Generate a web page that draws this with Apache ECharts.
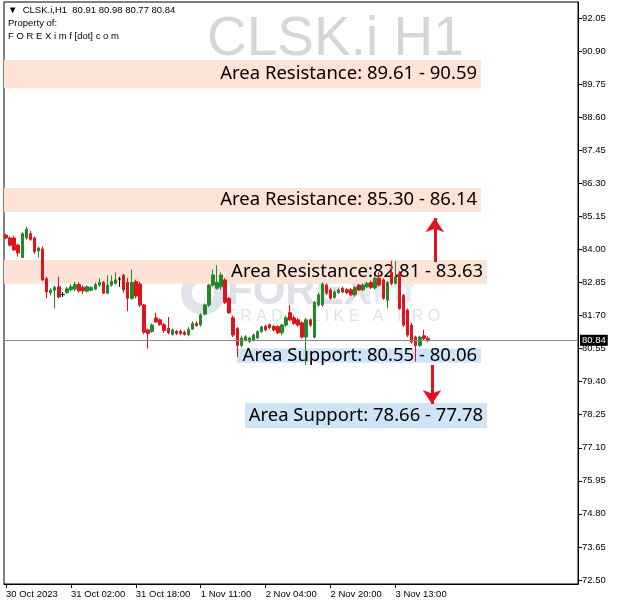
<!DOCTYPE html>
<html>
<head>
<meta charset="utf-8">
<script src="https://cdn.jsdelivr.net/npm/echarts@6/dist/echarts.min.js"></script>
<style>
html,body{margin:0;padding:0;background:#fff;}
#chart{width:620px;height:606px;}
</style>
</head>
<body>
<div id="chart"></div>
<script>
// Hourly OHLC of CLSK.i
const opens  = [84.50,84.40,84.40,84.15,83.72,84.40,84.55,84.40,83.95,84.02,82.98,82.50,82.58,82.70,82.43,82.50,82.60,82.62,82.78,82.68,82.55,
                82.58,82.62,82.76,82.85,82.48,82.76,82.82,82.97,83.10,82.85,82.30,82.88,82.80,82.07,81.20,81.15,81.62,81.55,81.38,81.25,81.05,
                81.15,81.15,81.12,81.03,81.23,81.42,81.37,81.75,82.07,82.76,82.65,82.70,82.94,82.30,81.62,81.25,80.66,80.85,80.80,80.85,80.92,
                81.14,81.32,81.38,81.32,81.32,81.10,81.37,81.80,81.62,81.55,81.45,80.95,81.55,80.95,82.07,82.07,82.76,82.59,82.33,82.50,82.65,
                82.60,82.60,82.42,82.76,82.59,82.70,82.85,82.66,83.00,82.94,82.24,83.20,82.82,83.17,82.40,81.89,81.37,80.95,80.66,81.00,80.91];
const highs  = [84.55,84.45,84.48,84.20,84.60,84.80,84.65,84.45,84.10,84.10,83.05,82.65,82.75,83.05,82.52,82.70,82.80,82.88,82.85,82.75,82.75,
                82.72,82.85,83.00,82.90,83.10,83.10,83.20,83.05,83.15,83.00,83.30,82.95,82.88,82.10,81.25,81.42,81.80,81.60,81.45,81.65,81.25,
                81.20,81.22,81.18,81.30,81.50,81.50,81.78,82.12,82.80,83.30,83.45,83.20,83.00,82.35,81.70,81.30,81.00,81.02,80.96,81.08,81.20,
                81.35,81.38,81.42,81.38,81.36,81.42,81.70,82.07,81.70,81.62,81.50,81.62,81.60,82.20,82.50,82.85,82.82,82.65,82.58,82.65,82.70,
                82.65,82.65,82.72,82.80,82.82,82.88,82.92,83.05,83.20,83.00,82.90,83.60,83.60,83.25,82.45,81.95,81.45,81.00,81.00,81.20,80.98];
const lows   = [84.35,84.10,83.95,83.75,83.70,84.35,84.30,83.85,83.72,82.90,82.30,82.40,81.95,82.30,82.35,82.45,82.55,82.55,82.50,82.45,82.50,
                82.55,82.58,82.70,82.45,82.45,82.70,82.78,82.70,82.50,81.85,82.25,82.30,82.00,81.05,80.55,81.10,81.45,81.35,81.10,81.05,81.00,
                81.02,81.02,81.00,80.98,81.20,81.30,81.32,81.70,82.00,82.70,82.60,82.60,82.10,81.75,80.95,80.25,80.60,80.80,80.75,80.80,80.88,
                81.10,81.15,81.22,81.15,81.05,81.02,81.30,81.50,81.38,81.30,80.90,79.98,81.30,80.90,82.00,82.00,82.42,82.25,82.28,82.45,82.48,
                82.45,82.38,82.35,82.55,82.55,82.65,82.62,82.60,82.70,82.25,81.95,82.75,82.78,81.90,81.30,80.95,80.72,80.10,80.60,80.85,80.77];
const closes = [84.40,84.15,83.98,83.88,84.55,84.70,84.35,83.92,84.05,82.94,82.52,82.58,82.68,82.35,82.43,82.63,82.70,82.78,82.56,82.56,82.70,
                82.68,82.78,82.85,82.48,82.76,82.88,82.94,82.97,82.60,82.30,82.85,82.38,82.07,81.12,81.08,81.37,81.48,81.38,81.18,81.10,81.20,
                81.08,81.08,81.04,81.22,81.42,81.35,81.72,82.07,82.76,83.11,82.85,83.11,82.16,81.80,81.02,80.66,80.92,80.96,80.92,81.02,81.14,
                81.30,81.20,81.28,81.20,81.10,81.37,81.62,81.55,81.42,81.37,80.95,81.55,81.37,82.16,82.42,82.80,82.48,82.30,82.52,82.59,82.52,
                82.50,82.42,82.68,82.59,82.76,82.82,82.68,83.00,82.76,82.30,82.85,82.82,83.05,81.95,81.37,81.02,80.78,80.66,80.95,80.90,80.84];

// Time axis labels (bar index -> label)
const timeTickIndex = [0, 16, 32, 48, 64, 80, 96];
const timeTickLabels = ['30 Oct 2023', '31 Oct 02:00', '31 Oct 18:00', '1 Nov 11:00', '2 Nov 04:00', '2 Nov 20:00', '3 Nov 13:00'];

// Price axis tick labels
const priceTicks = [72.50, 73.65, 74.80, 75.95, 77.10, 78.25, 79.40, 80.55, 81.70, 82.85, 84.00, 85.15, 86.30, 87.45, 88.60, 89.75, 90.90, 92.05];

// Last price
const lastPrice = 80.84;

// Zones
const zoneNames = ['Area Resistance: 89.61 - 90.59', 'Area Resistance: 85.30 - 86.14', 'Area Resistance:82.81 - 83.63', 'Area Support: 80.55 - 80.06', 'Area Support: 78.66 - 77.78'];
const zoneLow   = [89.61, 85.30, 82.81, 80.06, 77.78];
const zoneHigh  = [90.59, 86.14, 83.63, 80.55, 78.66];
const zoneFrom  = [-0.5, -0.5, -0.5, 56.9, 58.9];
const zoneTo    = [117.1, 117.1, 118.6, 117.1, 118.6];
const zoneKind  = ['res', 'res', 'res', 'sup', 'sup'];

// Arrows: [bar position, from price, to price]
const arrowX    = [105.7, 105.0];
const arrowFrom = [83.56, 79.98];
const arrowTo   = [85.09, 78.62];

const candleData = opens.map((o, i) => [i, o, closes[i], lows[i], highs[i]]);

const RED = '#e0141c';
const GREEN = '#22882a';

const areaData = zoneNames.map((n, i) => [
  { name: n, xAxis: zoneFrom[i], yAxis: zoneLow[i],
    itemStyle: { color: zoneKind[i] === 'res' ? '#fde2d6' : '#cfe4f6' } },
  { xAxis: zoneTo[i], yAxis: zoneHigh[i] }
]);

const arrowLines = arrowX.map((x, i) => [
  { coord: [x, arrowFrom[i]], symbol: 'none' },
  { coord: [x, arrowTo[i]], symbol: 'arrow', symbolSize: [14, 14], lineStyle: { color: RED, width: 3, type: 'solid' }, label: { show: false } }
]);

const chart = echarts.init(document.getElementById('chart'), null, { renderer: 'canvas' });

const axisFont = { fontFamily: 'Liberation Sans', fontSize: 9.5, color: '#000' };

chart.setOption({
  animation: false,
  backgroundColor: '#fff',
  grid: { left: 4, right: 42, top: 2, bottom: 22, show: true, borderColor: '#000', borderWidth: 1, backgroundColor: 'transparent' },
  xAxis: {
    type: 'value', min: -0.5, max: 141,
    axisLine: { show: true, onZero: false, lineStyle: { color: '#000', width: 1 } },
    axisTick: { show: true, customValues: timeTickIndex, length: 4, lineStyle: { color: '#000' } },
    axisLabel: Object.assign({}, axisFont, {
      customValues: timeTickIndex, align: 'left', margin: 5,
      formatter: v => { const k = timeTickIndex.indexOf(Math.round(v)); return k >= 0 ? timeTickLabels[k] : ''; }
    }),
    splitLine: { show: false }
  },
  yAxis: {
    type: 'value', position: 'right', min: 72.36, max: 92.61, scale: true,
    axisLine: { show: true, onZero: false, lineStyle: { color: '#000', width: 1 } },
    axisTick: { show: true, customValues: priceTicks, length: 4, lineStyle: { color: '#000' } },
    axisLabel: Object.assign({}, axisFont, { customValues: priceTicks, margin: 4, formatter: v => v.toFixed(2) }),
    splitLine: { show: false }
  },
  graphic: [
    { type: 'text', left: 207, top: 12, z: 0, silent: true,
      style: { text: 'CLSK.i H1', fontFamily: 'Liberation Sans', fontSize: 55, fill: '#d6d6d6' } },
    { type: 'ring', shape: { cx: 203, cy: 293, r: 22, r0: 11 }, z: 0, silent: true, style: { fill: '#e2e2ea' } },
    { type: 'text', left: 227, top: 271, z: 0, silent: true,
      style: { text: 'FOREX', fontFamily: 'Liberation Sans', fontWeight: 'bold', fontSize: 42, fill: '#e0e0e8' } },
    { type: 'text', left: 363, top: 276, z: 0, silent: true,
      style: { text: 'imf', fontFamily: 'Liberation Sans', fontWeight: 'bold', fontSize: 34, fill: '#eaecf4' } },
    { type: 'text', left: 226, top: 309, z: 0, silent: true,
      style: { text: 'T R A D E   L I K E   A   P R O', fontFamily: 'Liberation Sans', fontSize: 16, fill: '#e2e2e2' } },
    { type: 'text', left: 8, top: 5, z: 100, silent: true,
      style: { text: '▼  CLSK.i,H1  80.91 80.98 80.77 80.84', fontFamily: 'Liberation Sans', fontSize: 9.5, fill: '#000' } },
    { type: 'text', left: 8, top: 18, z: 100, silent: true,
      style: { text: 'Property of:', fontFamily: 'Liberation Sans', fontSize: 9.5, fill: '#000' } },
    { type: 'text', left: 8, top: 31, z: 100, silent: true,
      style: { text: 'F O R E X i m f [dot] c o m', fontFamily: 'Liberation Sans', fontSize: 9.5, fill: '#000' } }
  ],
  series: [{
    type: 'candlestick',
    data: candleData,
    encode: { x: 0, y: [1, 2, 3, 4] },
    barWidth: 3,
    itemStyle: { color: GREEN, color0: RED, borderColor: GREEN, borderColor0: RED, borderColorDoji: '#000', borderWidth: 1 },
    markArea: {
      silent: true,
      label: { show: true, position: 'insideRight', distance: 4, formatter: '{b}', fontFamily: 'Noto Sans', fontSize: 18.5, color: '#000' },
      data: areaData
    },
    markLine: {
      silent: true, symbol: 'none', animation: false,
      data: [
        { yAxis: lastPrice, lineStyle: { color: '#8a8a8a', type: 'solid', width: 1 },
          label: { show: true, position: 'end', distance: 2, formatter: lastPrice.toFixed(2), color: '#fff', backgroundColor: '#000',
                   padding: [1, 2, 0, 2], fontFamily: 'Liberation Sans', fontSize: 9.5 } }
      ].concat(arrowLines)
    }
  }]
});
</script>
</body>
</html>
